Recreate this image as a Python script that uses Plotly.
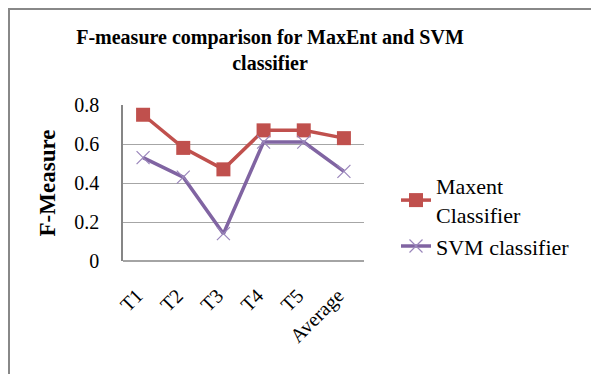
import plotly.graph_objects as go

categories = ["T1", "T2", "T3", "T4", "T5", "Average"]
maxent = [0.75, 0.58, 0.47, 0.67, 0.67, 0.63]
svm = [0.53, 0.43, 0.14, 0.61, 0.61, 0.46]
y_ticks = [0, 0.2, 0.4, 0.6, 0.8]
y_tick_labels = ["0", "0.2", "0.4", "0.6", "0.8"]

FONT = "Liberation Serif, Times New Roman, serif"
OFF = 8  # page body margin

fig = go.Figure()
fig.add_trace(go.Scatter(
    x=categories, y=maxent, name="Maxent<br>Classifier",
    mode="lines+markers",
    line=dict(color="#C0504D", width=3.5),
    marker=dict(symbol="square", size=14, color="#C0504D"),
))
fig.add_trace(go.Scatter(
    x=categories, y=svm, name="SVM classifier",
    mode="lines+markers",
    line=dict(color="#8064A2", width=3.5),
    marker=dict(symbol="x-thin", size=13, color="#8064A2",
                line=dict(color="#9a86bb", width=1.2)),
))

FW, FH = 599 - OFF, 374 - OFF
# plot area in page coordinates: x 123..364, y 105..261
L = 123 - OFF
T = 105 - OFF
R = FW - (364 - OFF)
B = FH - (261 - OFF)
W, H = FW - L - R, FH - T - B


def px_x(xp):
    return (xp - OFF - L) / W


def px_y(yp):
    return (FH - B - (yp - OFF)) / H


fig.update_layout(
    width=FW, height=FH,
    margin=dict(l=L, r=R, t=T, b=B),
    paper_bgcolor="white", plot_bgcolor="white",
    font=dict(family=FONT, size=20, color="black"),
    title=dict(
        text="<b>F-measure comparison for MaxEnt and SVM<br>classifier</b>",
        x=px_x(270), xref="paper", xanchor="center",
        y=1 - (44 - OFF) / FH, yanchor="top",
        font=dict(family=FONT, size=20, color="black"),
    ),
    xaxis=dict(
        type="category", range=[-0.5, 5.5],
        tickangle=-45, showgrid=False, showline=False,
        ticks="outside", ticklen=14, tickcolor="rgba(0,0,0,0)",
        ticklabelshift=-6,
        tickfont=dict(family=FONT, size=20),
    ),
    yaxis=dict(
        range=[0, 0.8], tickvals=y_ticks, ticktext=y_tick_labels,
        showgrid=True, gridcolor="#a6a6a6", gridwidth=1,
        showline=True, linecolor="#868686", linewidth=1.5,
        zeroline=False, ticks="outside", ticklen=18, tickcolor="rgba(0,0,0,0)",
        tickfont=dict(family=FONT, size=20),
        title=dict(text="<b>F-Measure</b>", font=dict(family=FONT, size=23), standoff=12),
    ),
    legend=dict(
        x=px_x(396), xanchor="left", y=px_y(165), yanchor="top",
        font=dict(family=FONT, size=22), tracegroupgap=4,
        bgcolor="rgba(0,0,0,0)",
    ),
    showlegend=True,
)

# bottom axis line
fig.add_shape(type="line", xref="paper", yref="paper", x0=0, x1=1, y0=0, y1=0,
              line=dict(color="#868686", width=1.5))
# outer chart frame (top and left edges visible)
fig.add_shape(type="rect", xref="paper", yref="paper",
              x0=px_x(OFF + 1), x1=px_x(640),
              y0=px_y(420), y1=px_y(OFF + 1),
              line=dict(color="#888888", width=2), layer="below")

fig.write_html("out.html")
